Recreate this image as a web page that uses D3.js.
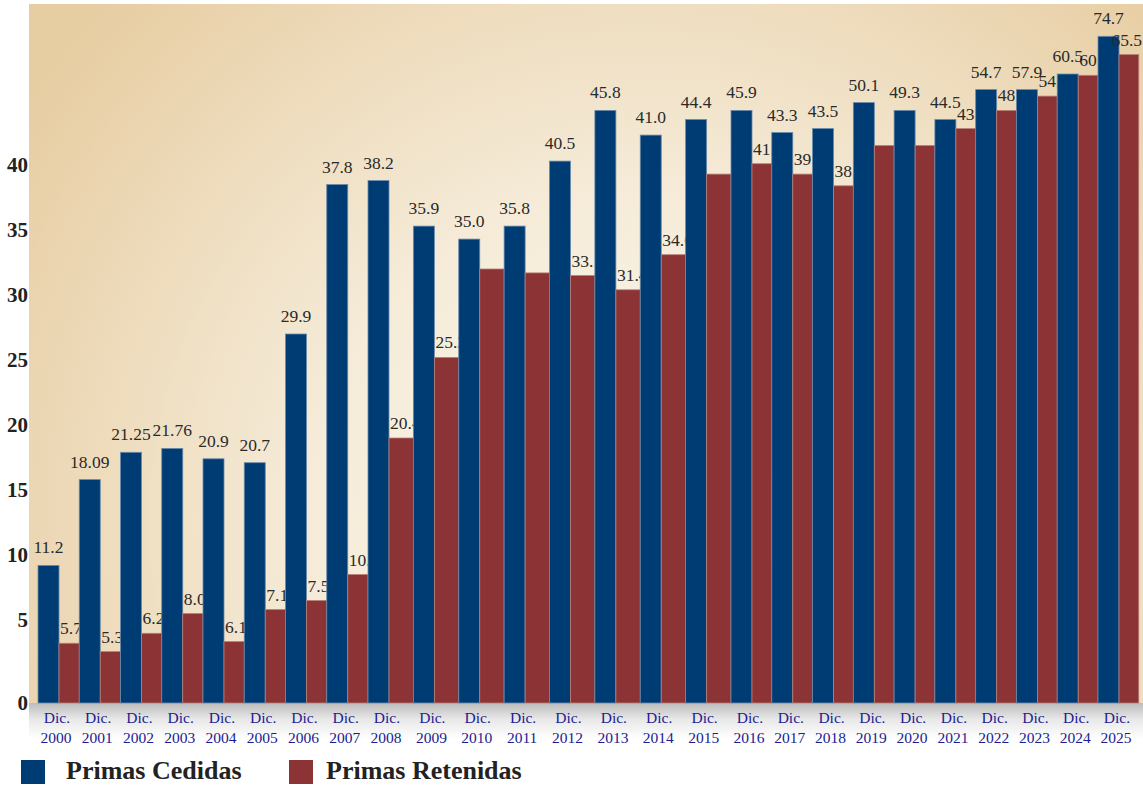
<!DOCTYPE html>
<html>
<head>
<meta charset="utf-8">
<script src="https://cdn.jsdelivr.net/npm/d3@7"></script>
<style>
  body { margin: 0; background: #fff; }
  svg { display: block; }
</style>
</head>
<body>
<script>
// years on the x axis
let years = ["2000","2001","2002","2003","2004","2005","2006","2007","2008","2009","2010","2011","2012",
             "2013","2014","2015","2016","2017","2018","2019","2020","2021","2022","2023","2024","2025"];

// printed value labels
let cedidasLabels = ["11.2","18.09","21.25","21.76","20.9","20.7","29.9","37.8","38.2","35.9","35.0","35.8","40.5",
                     "45.8","41.0","44.4","45.9","43.3","43.5","50.1","49.3","44.5","54.7","57.9","60.5","74.7"];
let retenidasLabels = ["5.7","5.3","6.2","8.0","6.1","7.1","7.5","10.5","20.4","25.3",null,null,"33.1",
                       "31.4","34.0",null,"41.1","39.5","38.2",null,null,"43.4","48.7","54.3","60.2","65.5"];

// bar heights as read against the y axis
let cedidasBars = [9.2,15.8,17.9,18.2,17.4,17.1,27.0,38.5,38.8,35.3,34.3,35.3,40.3,
                   44.2,42.3,43.5,44.2,42.5,42.8,44.8,44.2,43.5,45.8,45.8,47.0,49.9];
let retenidasBars = [3.6,3.1,4.2,5.5,3.7,5.8,6.5,8.5,19.0,25.2,32.0,31.7,31.5,
                     30.4,33.1,39.3,40.1,39.3,38.4,41.5,41.5,42.8,44.2,45.3,46.9,48.5];

let yTicks = [0,5,10,15,20,25,30,35,40];
let seriesNames = ["Primas Cedidas","Primas Retenidas"];
let colors = ["#003c74","#8b3335"];

let svg = d3.select("body").append("svg").attr("width", 1143).attr("height", 785);

let defs = svg.append("defs");
let bg = defs.append("radialGradient").attr("id","bg")
    .attr("gradientUnits","userSpaceOnUse")
    .attr("cx", 640).attr("cy", 520).attr("r", 740);
bg.append("stop").attr("offset","0").attr("stop-color","#fcf8ef");
bg.append("stop").attr("offset","0.45").attr("stop-color","#f5ebd8");
bg.append("stop").attr("offset","1").attr("stop-color","#e7cda2");

let shade = defs.append("linearGradient").attr("id","shade")
    .attr("x1",0).attr("y1",0).attr("x2",0).attr("y2",1);
shade.append("stop").attr("offset","0").attr("stop-color","#bcbcbc");
shade.append("stop").attr("offset","0.45").attr("stop-color","#e8e8e8");
shade.append("stop").attr("offset","1").attr("stop-color","#ffffff");

// y scale: 0-5 band is stretched like in the original
let y = d3.scaleLinear().domain([0, 5, 40]).range([703, 620, 165]);
// x position of each year group
let x = d3.scaleLinear().domain([0, 8, 16, 25]).range([38, 368, 731, 1098]);
let blueW = 21;

function step(i) {
  if (i < years.length - 1) return x(i + 1) - x(i);
  return x(i) - x(i - 1);
}

svg.append("rect").attr("x", 29).attr("y", 4).attr("width", 1114).attr("height", 699).attr("fill", "url(#bg)");
svg.append("rect").attr("x", 29).attr("y", 703).attr("width", 1114).attr("height", 36).attr("fill", "url(#shade)");

let groups = svg.selectAll("g.year")
  .data(years)
  .enter().append("g")
    .attr("class", "year");

groups.append("rect")
    .attr("x", (d,i) => x(i))
    .attr("y", (d,i) => y(cedidasBars[i]))
    .attr("width", blueW)
    .attr("height", (d,i) => y(0) - y(cedidasBars[i]))
    .attr("fill", colors[0])
    .attr("stroke", "#6b8aab")
    .attr("stroke-width", 0.8);

groups.append("text")
    .attr("x", (d,i) => x(i) + blueW / 2)
    .attr("y", (d,i) => y(cedidasBars[i]) - 12)
    .attr("text-anchor", "middle")
    .attr("font-family", "Liberation Serif, serif")
    .attr("font-size", 17.5)
    .attr("fill", "#2a2a2a")
    .text((d,i) => cedidasLabels[i]);

groups.append("rect")
    .attr("x", (d,i) => x(i) + blueW)
    .attr("y", (d,i) => y(retenidasBars[i]))
    .attr("width", (d,i) => step(i) - blueW)
    .attr("height", (d,i) => y(0) - y(retenidasBars[i]))
    .attr("fill", colors[1])
    .attr("stroke", "#b98078")
    .attr("stroke-width", 0.8);

// retained labels start at the bar's left edge, next year's bar hides the tail
groups.append("text")
    .attr("y", (d,i) => y(retenidasBars[i]) - 9)
    .attr("font-family", "Liberation Serif, serif")
    .attr("font-size", 17.5)
    .attr("fill", "#2a2a2a")
    .text((d,i) => retenidasLabels[i] || "")
    .attr("x", function(d,i) {
      let len = this.getComputedTextLength();
      return Math.min(x(i) + blueW + 1, 1142 - len);
    });

// y axis
let yAxis = svg.append("g")
    .attr("transform", "translate(29,0)")
    .call(d3.axisLeft(y).tickValues(yTicks).tickSize(0).tickPadding(1).tickFormat(d3.format("d")));
yAxis.select(".domain").remove();
yAxis.selectAll("text")
    .attr("font-family", "Liberation Serif, serif")
    .attr("font-weight", "bold")
    .attr("font-size", 21)
    .attr("fill", "#222");

// x labels
let xl = svg.selectAll("text.xlab")
  .data(years)
  .enter().append("text")
    .attr("class", "xlab")
    .attr("text-anchor", "middle")
    .attr("font-family", "Liberation Serif, serif")
    .attr("font-size", 15.5)
    .attr("fill", "#1c1c94");
xl.append("tspan")
    .attr("x", (d,i) => x(i) + 19)
    .attr("y", 723)
    .text("Dic.");
xl.append("tspan")
    .attr("x", (d,i) => x(i) + 18)
    .attr("y", 743)
    .text(d => d);

// legend
let legendX = [21, 289];
let legend = svg.selectAll("g.legend")
  .data(seriesNames)
  .enter().append("g")
    .attr("class", "legend")
    .attr("transform", (d,i) => "translate(" + legendX[i] + ",760)");
legend.append("rect")
    .attr("width", 24).attr("height", 24)
    .attr("fill", (d,i) => colors[i]);
legend.append("text")
    .attr("x", (d,i) => i == 0 ? 45 : 37)
    .attr("y", 19)
    .attr("font-family", "Liberation Serif, serif")
    .attr("font-weight", "bold")
    .attr("font-size", 26)
    .attr("fill", "#222")
    .text(d => d);
</script>
</body>
</html>
